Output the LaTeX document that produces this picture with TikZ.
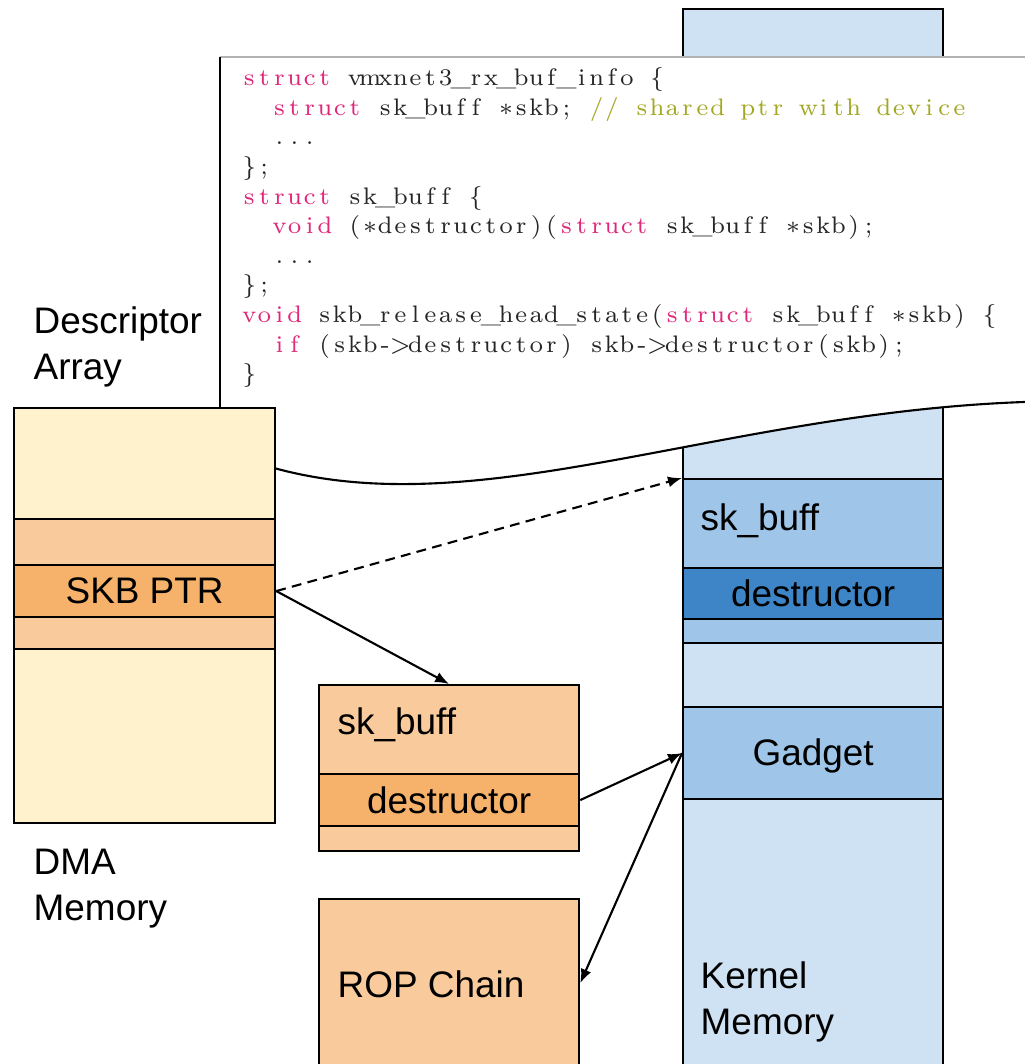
\documentclass[tikz,border=0pt]{standalone}
\usepackage{xcolor}
\usepackage{fontspec}
\usepackage{tikz}
\usetikzlibrary{arrows.meta}

\newfontfamily\lblfont{Liberation Sans}

\definecolor{dmaLight}{HTML}{FFF2CC}
\definecolor{dmaMid}{HTML}{F9CB9C}
\definecolor{dmaDark}{HTML}{F6B26B}
\definecolor{kLight}{HTML}{CFE2F3}
\definecolor{kMid}{HTML}{9FC5E8}
\definecolor{kDark}{HTML}{3D85C6}
\definecolor{kw}{HTML}{E0287A}
\definecolor{cmt}{HTML}{A3A822}

% fixed-column code characters, list ends at \relax
\newcommand\cc[1]{\ifx#1\relax\else\makebox[0.151cm]{#1}\expandafter\cc\fi}
\newcommand\st{\ensuremath{\ast}}

\tikzset{
  mem/.style={draw, line width=0.6pt, inner sep=0, anchor=north west, minimum width=2.6cm},
  lbl/.style={font={\lblfont\fontsize{10.5}{13.1}\selectfont}, inner sep=0},
  ptr/.style={-{Latex[length=1.4mm,width=1.1mm]}, line width=0.6pt},
}

\begin{document}
\begin{tikzpicture}[x={(0.01cm,0)}, y={(0,-0.01cm)}]
  \useasboundingbox (0,0) rectangle (1024,1064);

  % Kernel memory column
  \node[mem, fill=kLight, minimum height=10.7cm] (kernel) at (682,8) {};

  % Code listing pasted over the column
  \fill[white] (220,57) -- (1030,57) -- (1030,402) -- (1024,402)
    .. controls (720,413) and (480,525) .. (274,468) -- (274,407) -- (220,407) -- cycle;
  \draw[gray!60, line width=0.4pt] (220,57) -- (1030,57);
  \draw[line width=0.8pt] (220,57) -- (220,407);
  \draw[line width=0.6pt] (1030,401) -- (1024,402)
    .. controls (720,413) and (480,525) .. (274,468);
  \node[anchor=north west, inner sep=0, align=left, text=black!85,
        font={\rmfamily\fontsize{6.8}{8.42}\selectfont}] (code) at (241,67) {%
    \textcolor{kw}{\cc struct\relax}\cc ~vmxnet3\_rx\_buf\_info~\{\relax\\
    \cc ~~\relax\textcolor{kw}{\cc struct\relax}\cc ~sk\_buff~\st skb;~\relax\textcolor{cmt}{\cc //~shared~ptr~with~device\relax}\\
    \cc ~~...\relax\\
    \cc \};\relax\\
    \textcolor{kw}{\cc struct\relax}\cc ~sk\_buff~\{\relax\\
    \cc ~~\relax\textcolor{kw}{\cc void\relax}\cc ~(\st destructor)(\relax\textcolor{kw}{\cc struct\relax}\cc ~sk\_buff~\st skb);\relax\\
    \cc ~~...\relax\\
    \cc \};\relax\\
    \textcolor{kw}{\cc void\relax}\cc ~skb\_release\_head\_state(\relax\textcolor{kw}{\cc struct\relax}\cc ~sk\_buff~\st skb)~\{\relax\\
    \cc ~~\relax\textcolor{kw}{\cc if\relax}\cc ~(skb->destructor)~skb->destructor(skb);\relax\\
    \cc \}\relax};

  % Descriptor array in DMA memory
  \node[mem, fill=dmaLight, minimum width=2.61cm, minimum height=1.11cm] (dtop) at (13,407) {};
  \node[mem, fill=dmaMid, minimum width=2.61cm, minimum height=0.46cm] (dpadA) at (13,518) {};
  \node[mem, fill=dmaDark, minimum width=2.61cm, minimum height=0.52cm] (skbptr) at (13,564) {};
  \node[mem, fill=dmaMid, minimum width=2.61cm, minimum height=0.32cm] (dpadB) at (13,616) {};
  \node[mem, fill=dmaLight, minimum width=2.61cm, minimum height=1.74cm] (dbot) at (13,648) {};
  \node[lbl] (ptrlbl) at (skbptr.center) {SKB PTR};

  % Fake sk_buff in DMA memory
  \node[mem, fill=dmaMid, minimum height=0.89cm] (mskb) at (318,684) {};
  \node[mem, fill=dmaDark, minimum height=0.52cm] (mdes) at (318,773) {};
  \node[mem, fill=dmaMid, minimum height=0.25cm] (mpad) at (318,825) {};
  \node[mem, fill=dmaMid, minimum height=1.8cm] (rop) at (318,898) {};

  % Real sk_buff and gadget in kernel memory
  \node[mem, fill=kMid, minimum height=0.89cm] (kskb) at (682,478) {};
  \node[mem, fill=kDark, minimum height=0.51cm] (kdes) at (682,567) {};
  \node[mem, fill=kMid, minimum height=0.24cm] (kpad) at (682,618) {};
  \node[mem, fill=kMid, minimum height=0.92cm] (gadget) at (682,706) {};

  % Labels
  \node[lbl, anchor=west, align=left] (desclbl) at (33,347) {Descriptor\\Array};
  \node[lbl, anchor=west, align=left] (dmalbl) at (33,889) {DMA\\Memory};
  \node[lbl, anchor=west, align=left] (kernlbl) at (700,1002) {Kernel\\Memory};
  \node[lbl, anchor=west] (mskblbl) at (337,725) {sk\_buff};
  \node[lbl] (mdeslbl) at (mdes.center) {destructor};
  \node[lbl, anchor=west] (roplbl) at (337,984) {ROP Chain};
  \node[lbl, anchor=west] (kskblbl) at (700,521) {sk\_buff};
  \node[lbl] (kdeslbl) at (kdes.center) {destructor};
  \node[lbl] (gadlbl) at ([yshift=-0.03cm]gadget.center) {Gadget};

  % Pointers
  \draw[ptr] (skbptr.east) -- (mskb.north);
  \draw[ptr, dash pattern=on 2.8pt off 1.8pt] (skbptr.east) -- (kskb.north west);
  \draw[ptr] (mdes.east) -- (gadget.west);
  \draw[ptr] (gadget.west) -- ([yshift=0.06cm]rop.east);
\end{tikzpicture}
\end{document}
